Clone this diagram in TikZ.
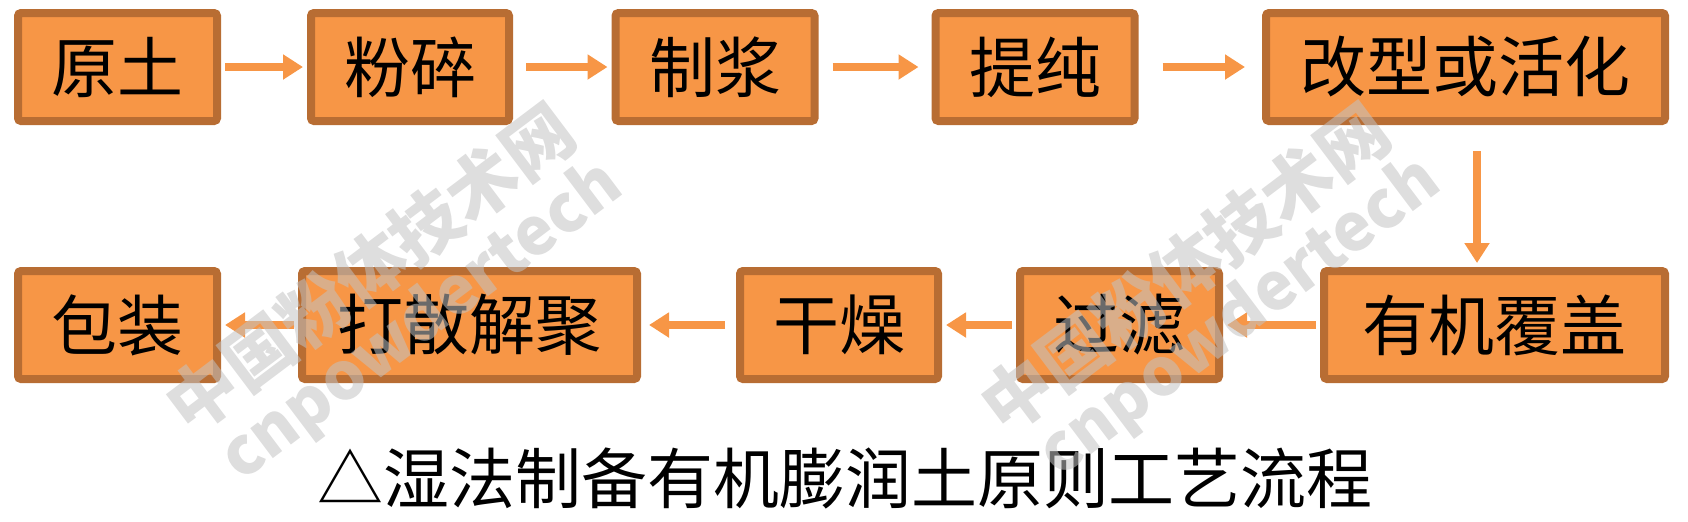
\documentclass[tikz,border=0pt]{standalone}
\usepackage{fontspec}
\setmainfont{Noto Sans CJK SC}
\usepackage{tikz}
\usetikzlibrary{arrows.meta}

\definecolor{boxfill}{HTML}{F79646}
\definecolor{boxline}{HTML}{B86D33}
\definecolor{markgray}{HTML}{C2C2C2}

\begin{document}
\begin{tikzpicture}[x=0.5pt,y=-0.5pt,-{Triangle[length=10pt,width=12pt]},line width=4pt,draw=boxfill,
	shorten <=2pt,shorten >=2pt,
	stage node/.style={rectangle,rounded corners=1.5pt,draw=boxline,line width=4pt,fill=boxfill,minimum width=99.5pt,minimum height=54pt,inner sep=0pt,font=\fontsize{33pt}{33pt}\selectfont},
	mark text/.style={text=markgray,opacity=0.55,rotate=37,font=\bfseries\fontsize{#1}{#1}\selectfont}]

	\useasboundingbox (0,0) rectangle (1688,521);

	\node[stage node] (yuantu) at (117.5,67) {原土};
	\node[stage node,minimum width=99pt] (fensui) at (410,67) {粉碎};
	\node[stage node] (zhijiang) at (715,67) {制浆};
	\node[stage node] (tichun) at (1035,67) {提纯};
	\node[stage node,minimum width=199.5pt] (gaixing) at (1465.5,67) {改型或活化};
	\node[stage node,minimum width=170.5pt] (fugai) at (1494.5,325) {有机覆盖};
	\node[stage node] (guolv) at (1119.5,325) {过滤};
	\node[stage node,minimum width=99pt] (ganzao) at (839,325) {干燥};
	\node[stage node,minimum width=167.5pt] (dasan) at (469.5,325) {打散解聚};
	\node[stage node] (baozhuang) at (117.5,325) {包装};

	\path (yuantu) edge (fensui)
	(fensui) edge[shorten <=6.5pt] (zhijiang)
	(zhijiang) edge[shorten <=7pt,shorten >=6.5pt] (tichun)
	(tichun) edge[shorten <=12pt,shorten >=8.5pt] (gaixing)
	([xshift=5.75pt]gaixing.south) edge[shorten <=13pt] ([xshift=5.75pt]gaixing.south |- fugai.north)
	(fugai) edge (guolv)
	(guolv) edge (ganzao)
	(ganzao) edge[shorten <=5.5pt,shorten >=4pt] (dasan)
	(dasan) edge (baozhuang);

	\node[font=\fontsize{33pt}{33pt}\selectfont] (caption) at (845,478) {△湿法制备有机膨润土原则工艺流程};

	% watermark
	\node[mark text=35pt] (markcn1) at (370,268) {中国粉体技术网};
	\node[mark text=35pt] (markcn2) at (1185,268) {中国粉体技术网};
	\node[mark text=33pt] (markenA) at (422,322) {cnpowdertech};
	\node[mark text=33pt] (markenB) at (1240,318) {cnpowdertech};

\end{tikzpicture}
\end{document}
